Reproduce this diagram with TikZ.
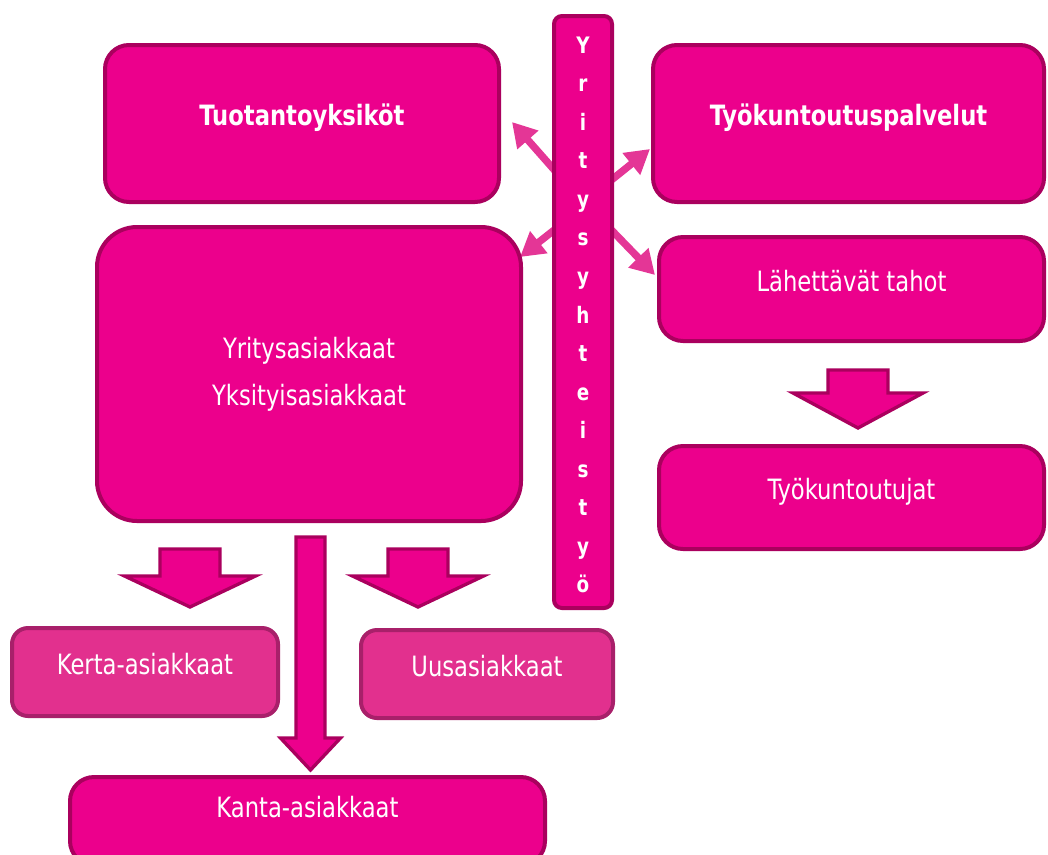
\documentclass[tikz,border=0pt]{standalone}
\usepackage{fontspec}
\setmainfont{DejaVu Sans Condensed}[FakeStretch=0.9]
\usepackage{xcolor}
\usetikzlibrary{arrows.meta}

\definecolor{pinkfill}{HTML}{EC008C}
\definecolor{pinkline}{HTML}{AA005E}
\definecolor{lightfill}{HTML}{E2308E}
\definecolor{lightline}{HTML}{A8206A}
\definecolor{arrowpink}{HTML}{E43696}

\tikzset{
  box/.style={draw=pinkline, fill=pinkfill, line width=3pt, rounded corners=18pt,
    text=white, align=center, font=\fontsize{21pt}{25pt}\selectfont},
  onebox/.style={box, text height=14pt, text depth=11pt},
  lightbox/.style={onebox, draw=lightline, fill=lightfill, rounded corners=12pt},
  barbox/.style={box, rounded corners=6pt},
  barletter/.style={text=white, anchor=base, font=\fontsize{17pt}{19pt}\selectfont\bfseries},
  blockarrow/.style={draw=pinkline, fill=pinkfill, line width=2.5pt, line join=miter},
  link/.style={draw=arrowpink, line width=5.5pt, -{Triangle[length=18pt,width=20pt]}}
}

\begin{document}
\begin{tikzpicture}[x=0.75pt,y=-0.75pt]
   \useasboundingbox (0,0) rectangle (1048,854);

   % ends of the arrows from the bar
   \coordinate (s1) at (572,190);  \coordinate (e1) at (512,122);
   \coordinate (s2) at (594,194);  \coordinate (e2) at (650,149);
   \coordinate (s3) at (572,216);  \coordinate (e3) at (520,257);
   \coordinate (s4) at (594,212);  \coordinate (e4) at (655,275);
   \path (s1) edge[link] (e1)
         (s2) edge[link] (e2)
         (s3) edge[link] (e3)
         (s4) edge[link] (e4);

   \node[onebox, minimum width=295.5pt, minimum height=117.75pt] (tuot) at (302,123.5) {\bfseries Tuotantoyksiköt};
   \node[onebox, minimum width=293.25pt, minimum height=117.75pt] (tyok) at (848.5,123.5) {\bfseries Työkuntoutuspalvelut};
   \node[onebox, minimum width=288.75pt, minimum height=78pt] (lahet) at (851.5,289) {Lähettävät tahot};
   \node[onebox, minimum width=288.75pt, minimum height=77.25pt] (tyokt) at (851.5,497.5) {Työkuntoutujat};
   \node[box, rounded corners=30pt, minimum width=318pt, minimum height=220.5pt] (asiak) at (309,374)
        {Yritysasiakkaat\\[10pt]Yksityisasiakkaat};
   \node[lightbox, minimum width=199.5pt, minimum height=66pt] (kerta) at (145,672) {Kerta-asiakkaat};
   \node[lightbox, minimum width=189pt, minimum height=66pt] (uus) at (487,674) {Uusasiakkaat};
   \node[onebox, text depth=19pt, minimum width=356.25pt, minimum height=66pt] (kanta) at (307.5,821) {Kanta-asiakkaat};

   % vertical bar
   \node[barbox, minimum width=43.5pt, minimum height=444pt] (bar) at (583,312) {};
   \foreach \c [count=\i from 0] in {Y,r,i,t,y,s,y,h,t,e,i,s,t,y,ö}
     \node[barletter] (l\i) at (583,53+38.57*\i) {\c};

   % block arrows
   \draw[blockarrow] (160,549) -- (220,549) -- (220,576) -- (255.5,576) -- (190,607)
        -- (124.5,576) -- (160,576) -- cycle;
   \draw[blockarrow] (388,549) -- (448,549) -- (448,576) -- (483.5,576) -- (418,607)
        -- (352.5,576) -- (388,576) -- cycle;
   \draw[blockarrow] (296,537) -- (325,537) -- (325,738) -- (340.5,738) -- (310.5,770)
        -- (280.5,738) -- (296,738) -- cycle;
   \draw[blockarrow] (828,370) -- (888,370) -- (888,393) -- (923,393) -- (858,428)
        -- (793,393) -- (828,393) -- cycle;
\end{tikzpicture}
\end{document}
